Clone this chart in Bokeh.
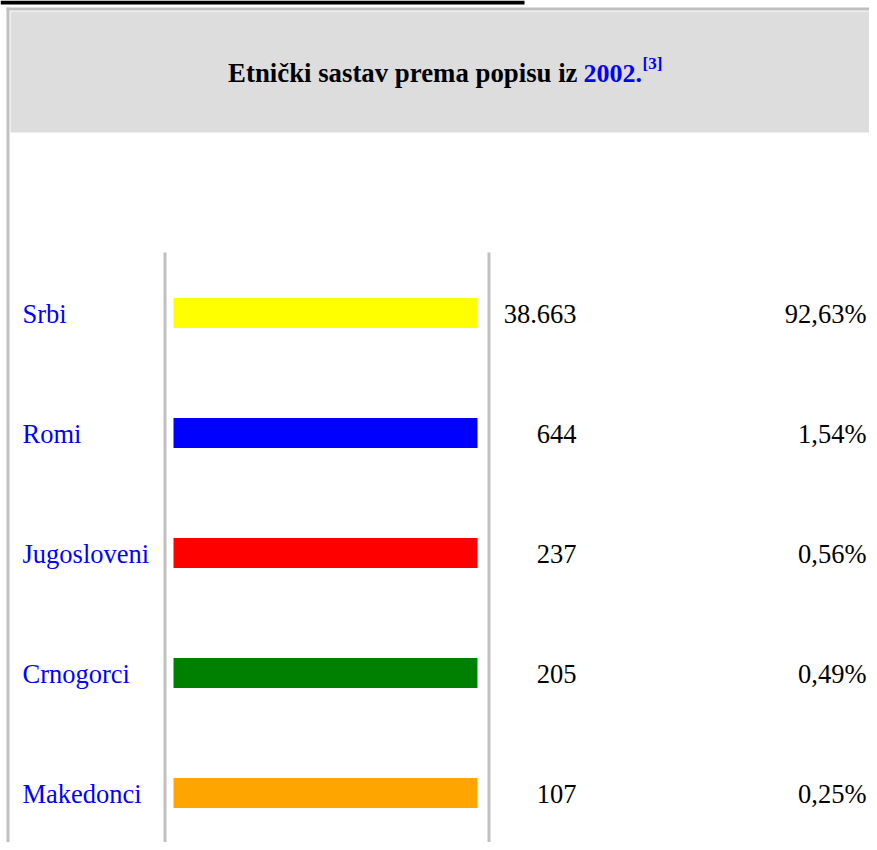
from bokeh.plotting import figure
from bokeh.models import Range1d, ColumnDataSource
from bokeh.core.properties import value
from bokeh.embed import file_html
from bokeh.resources import INLINE

# ---- data ----
categories = ["Srbi", "Romi", "Jugosloveni", "Crnogorci", "Makedonci"]
counts = ["38.663", "644", "237", "205", "107"]
percents = ["92,63%", "1,54%", "0,56%", "0,49%", "0,25%"]
colors = ["#ffff00", "#0000ff", "#ff0000", "#008000", "#ffa500"]
title_main = "Etnički sastav prema popisu iz"
title_year = "2002."
title_ref = "[3]"

# ---- layout (picture-pixel coordinates) ----
W, H = 869, 842
ROW0, PITCH = 312.5, 120
TXT_DY = 0.5
FONT = value("Liberation Serif")
GRAY = "#c0c0c0"

rows = list(range(len(categories)))
src = ColumnDataSource(dict(
    cat=categories, cnt=counts, pct=percents, col=colors,
    yc=[ROW0 + PITCH * i for i in rows],
    yb=[ROW0 + TXT_DY + PITCH * i for i in rows],
))

p = figure(width=W, height=H, x_range=Range1d(0, W), y_range=Range1d(H, 0),
           output_backend="svg", toolbar_location=None, min_border=0)
p.axis.visible = False
p.grid.visible = False
p.outline_line_color = None
p.background_fill_color = "white"
p.border_fill_color = "white"

# black rule at very top
p.quad(left=0, right=524, top=0, bottom=4, color="black", line_color=None)
# outer table border (top + left)
p.quad(left=6, right=W, top=7, bottom=10, color=GRAY, line_color=None)
p.quad(left=6, right=9, top=7, bottom=H, color=GRAY, line_color=None)
# header background
p.quad(left=10, right=W, top=11, bottom=132, color="#dddddd", line_color=None)
# column separators
p.quad(left=[163, 487], right=[166, 490], top=252, bottom=H, color=GRAY, line_color=None)

# title
p.text(x=[577], y=[72.5], text=[title_main], text_font=FONT, text_font_size="26.8px",
       text_font_style="bold", text_color="black", text_align="right",
       text_baseline="alphabetic")
p.text(x=[583], y=[72.5], text=[title_year], text_font=FONT, text_font_size="26px",
       text_font_style="bold", text_color="#0000ff", text_align="left",
       text_baseline="alphabetic")
p.text(x=[642], y=[62.5], text=[title_ref], text_font=FONT, text_font_size="17px",
       text_font_style="bold", text_color="#0000ff", text_align="left",
       text_baseline="alphabetic")

# bars
p.hbar(y="yc", left=173, right=477, height=30, fill_color="col", line_color=None, source=src)

# labels, counts, percents
p.text(x=22, y="yb", text="cat", source=src, text_font=FONT, text_font_size="26.5px",
       text_color="#0000ff", text_align="left", text_baseline="alphabetic")
p.text(x=576, y="yb", text="cnt", source=src, text_font=FONT, text_font_size="26.5px",
       text_color="black", text_align="right", text_baseline="alphabetic")
p.text(x=866, y="yb", text="pct", source=src, text_font=FONT, text_font_size="26.5px",
       text_color="black", text_align="right", text_baseline="alphabetic")

open("out.html", "w").write(file_html(p, INLINE))
